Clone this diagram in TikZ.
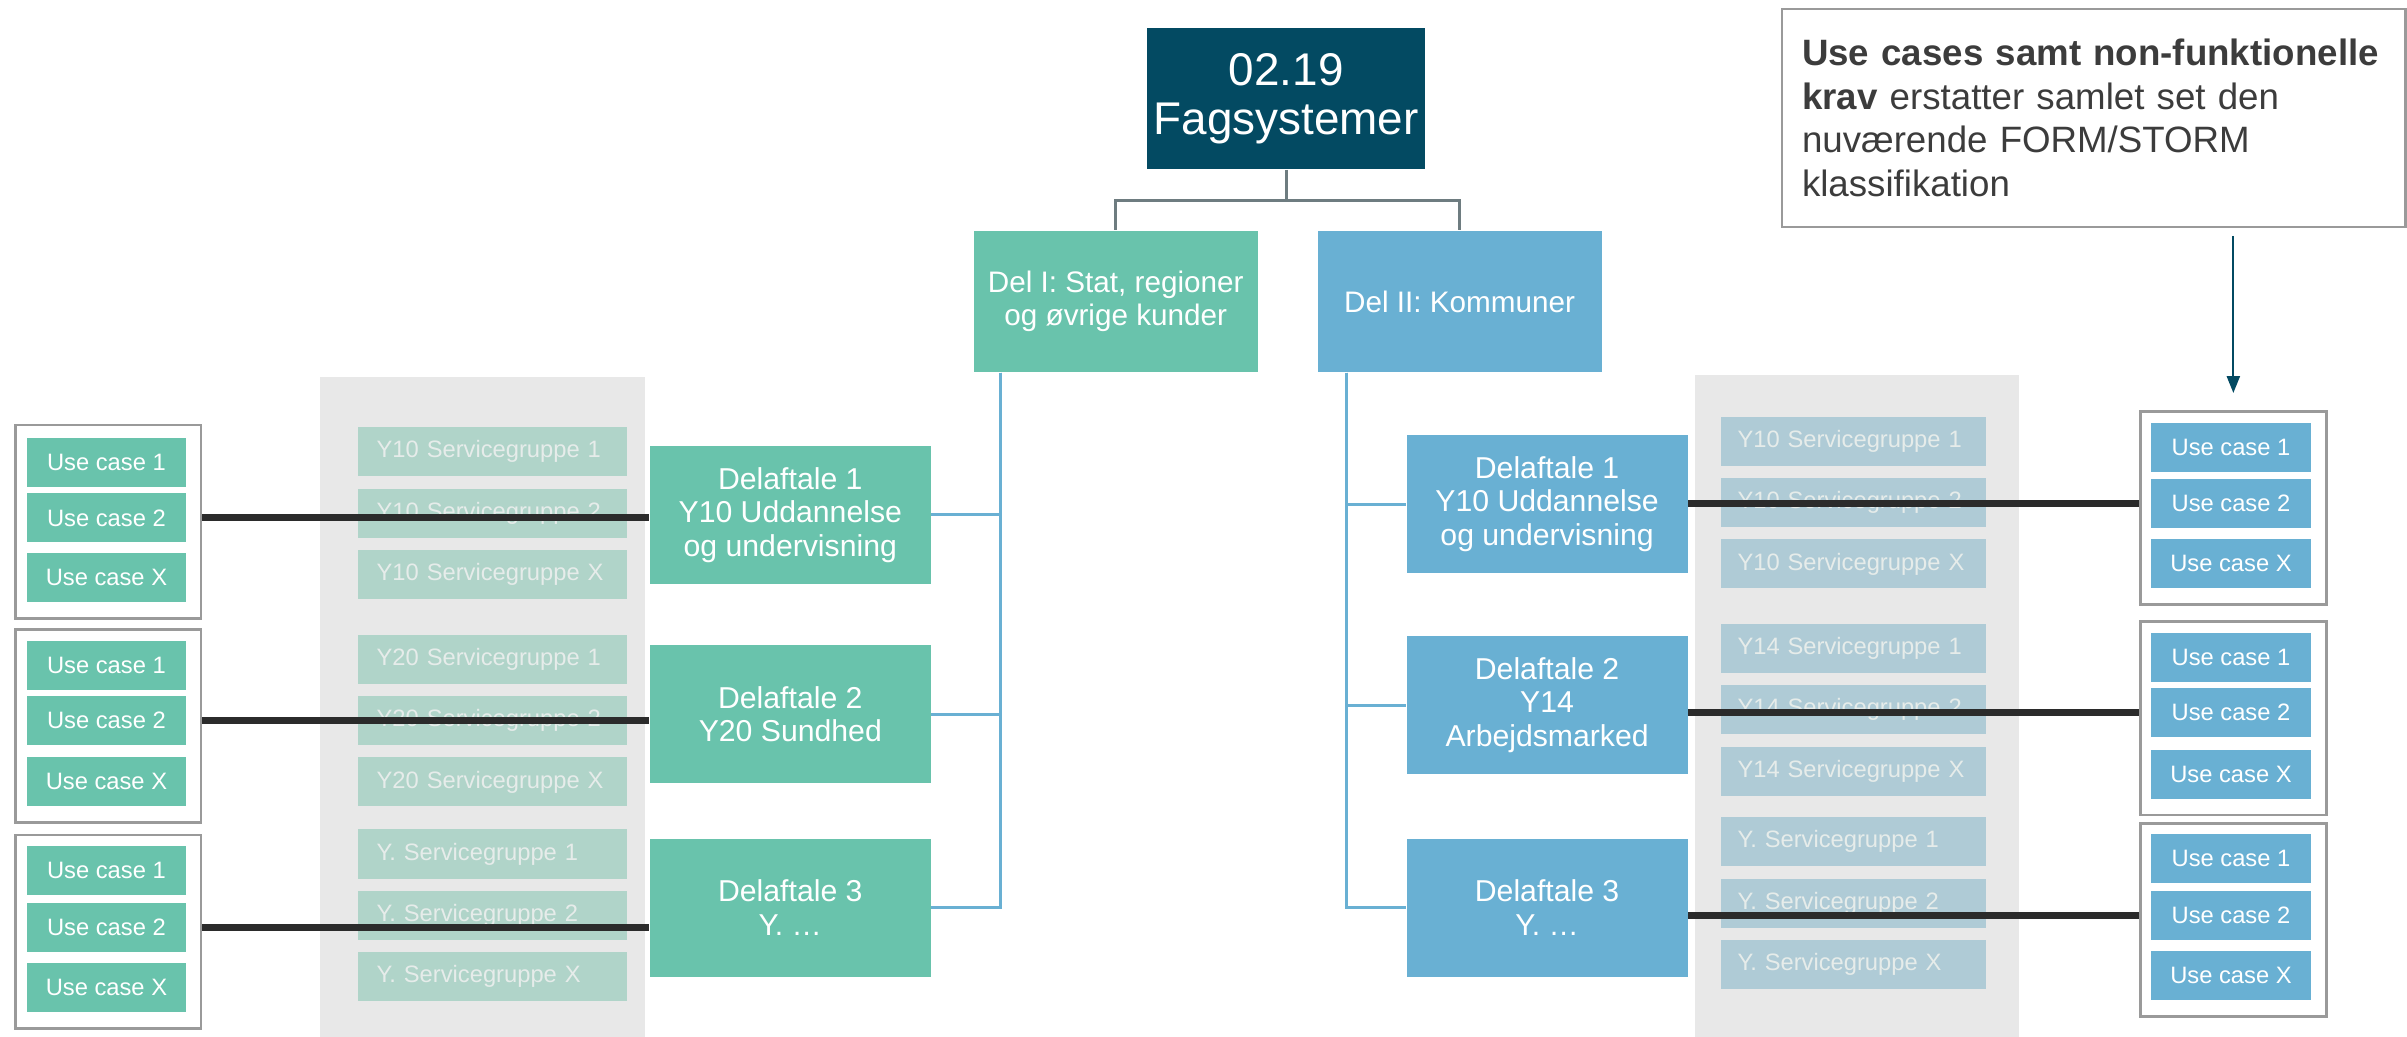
\documentclass[tikz,border=0pt]{standalone}
\usepackage{fontspec}
\setmainfont{Liberation Sans}
\usepackage{tikz}
\usetikzlibrary{arrows.meta}
\usetikzlibrary{calc}

\definecolor{topteal}{HTML}{034A62}
\definecolor{fgreen}{HTML}{69C3AC}
\definecolor{fblue}{HTML}{69B0D3}
\definecolor{sggreen}{HTML}{B0D4C9}
\definecolor{sgblue}{HTML}{AFCBD6}
\definecolor{panelgray}{HTML}{E8E8E8}
\definecolor{grpgray}{HTML}{9A9A9A}
\definecolor{linkdark}{HTML}{2B2B2B}
\definecolor{treegray}{HTML}{6E7C80}
\definecolor{sgtext}{HTML}{E6ECEA}
\definecolor{notetext}{HTML}{3C3C3C}

\begin{document}
\begin{tikzpicture}[x=0.02cm, y=-0.02cm,
    every node/.style={anchor=north west, inner sep=0pt},
    topbox/.style={fill=topteal, text=white, minimum width=3.62cm, minimum height=1.84cm, align=center, font=\fontsize{17}{18.5}\selectfont},
    partbox/.style={text=white, minimum width=3.7cm, minimum height=1.84cm, align=center, font=\fontsize{11}{12}\selectfont},
    dealbox/.style={text=white, minimum width=3.66cm, minimum height=1.8cm, align=center, font=\fontsize{11.2}{12.4}\selectfont},
    panel/.style={fill=panelgray, minimum width=4.24cm, minimum height=8.6cm},
    sgbox/.style={text=sgtext, minimum height=0.64cm, text width=3.02cm, align=left, font=\fontsize{8.8}{10}\selectfont},
    lsg/.style={sgbox, fill=sggreen, inner xsep=0.24cm},
    rsg/.style={sgbox, fill=sgblue, inner xsep=0.22cm},
    grpbox/.style={draw=grpgray, line width=1pt, fill=white, minimum width=2.42cm, minimum height=2.52cm},
    ucbox/.style={text=white, minimum width=2.08cm, minimum height=0.64cm, font=\fontsize{8.8}{10}\selectfont},
    tree/.style={draw=treegray, line width=1.1pt},
    btree/.style={draw=fblue, line width=1.1pt},
    link/.style={draw=linkdark, line width=2.5pt},
    pointer/.style={draw=topteal, line width=0.8pt, -{Triangle[length=2.2mm, width=1.7mm]}}]

    \useasboundingbox (0,0) rectangle (1568,675);

    % top of the tree
    \node[topbox] (top) at (747,18) {02.19\\Fagsystemer};
    \node[partbox, fill=fgreen] (delI) at (634,150) {Del I: Stat, regioner\\og øvrige kunder};
    \node[partbox, fill=fblue] (delII) at (858,150) {Del II: Kommuner};

    \coordinate (fork) at ($(top.south)+(0,20)$);
    \draw[tree] (top.south) -- (fork);
    \draw[tree] (fork) -| (delI.north);
    \draw[tree] (fork) -| (delII.north);

    % grey panels behind the servicegrupper
    \node[panel] (lpanel) at (208,245) {};
    \node[panel, minimum width=4.22cm, minimum height=8.62cm] (rpanel) at (1104,244) {};

    % Del I: delaftaler
    \node[dealbox, fill=fgreen] (gd1) at (423,290) {Delaftale 1\\Y10 Uddannelse\\og undervisning};
    \node[dealbox, fill=fgreen] (gd2) at (423,420) {Delaftale 2\\Y20 Sundhed};
    \node[dealbox, fill=fgreen] (gd3) at (423,546) {Delaftale 3\\Y. \dots};

    % Del II: delaftaler
    \node[dealbox, fill=fblue] (bd1) at (916,283) {Delaftale 1\\Y10 Uddannelse\\og undervisning};
    \node[dealbox, fill=fblue] (bd2) at (916,414) {Delaftale 2\\Y14\\Arbejdsmarked};
    \node[dealbox, fill=fblue] (bd3) at (916,546) {Delaftale 3\\Y. \dots};

    \coordinate (ltrunk) at ($(delI.south west)+(18,0)$);
    \draw[btree] (ltrunk) |- (gd1.east);
    \draw[btree] (ltrunk) |- (gd2.east);
    \draw[btree] (ltrunk) |- (gd3.east);

    \coordinate (rtrunk) at ($(delII.south west)+(19,0)$);
    \draw[btree] (rtrunk) |- (bd1.west);
    \draw[btree] (rtrunk) |- (bd2.west);
    \draw[btree] (rtrunk) |- (bd3.west);

    % servicegrupper, left
    \node[lsg] (lsg1a) at (233,278) {Y10 Servicegruppe 1};
    \node[lsg] (lsg1b) at (233,318) {Y10 Servicegruppe 2};
    \node[lsg] (lsg1x) at (233,358) {Y10 Servicegruppe X};
    \node[lsg] (lsg2a) at (233,413) {Y20 Servicegruppe 1};
    \node[lsg] (lsg2b) at (233,453) {Y20 Servicegruppe 2};
    \node[lsg] (lsg2x) at (233,493) {Y20 Servicegruppe X};
    \node[lsg] (lsg3a) at (233,540) {Y. Servicegruppe 1};
    \node[lsg] (lsg3b) at (233,580) {Y. Servicegruppe 2};
    \node[lsg] (lsg3x) at (233,620) {Y. Servicegruppe X};

    % servicegrupper, right
    \node[rsg] (rsg1a) at (1120.5,271) {Y10 Servicegruppe 1};
    \node[rsg] (rsg1b) at (1120.5,311) {Y10 Servicegruppe 2};
    \node[rsg] (rsg1x) at (1120.5,351) {Y10 Servicegruppe X};
    \node[rsg] (rsg2a) at (1120.5,406) {Y14 Servicegruppe 1};
    \node[rsg] (rsg2b) at (1120.5,446) {Y14 Servicegruppe 2};
    \node[rsg] (rsg2x) at (1120.5,486) {Y14 Servicegruppe X};
    \node[rsg] (rsg3a) at (1120.5,532) {Y. Servicegruppe 1};
    \node[rsg] (rsg3b) at (1120.5,572) {Y. Servicegruppe 2};
    \node[rsg] (rsg3x) at (1120.5,612) {Y. Servicegruppe X};

    % use cases, left
    \node[grpbox] (lgrp1) at (9,276) {};
    \node[grpbox] (lgrp2) at (9,409) {};
    \node[grpbox] (lgrp3) at (9,543) {};
    \node[ucbox, fill=fgreen] (luc1a) at (17,285) {Use case 1};
    \node[ucbox, fill=fgreen] (luc1b) at (17,321) {Use case 2};
    \node[ucbox, fill=fgreen] (luc1x) at (17,360) {Use case X};
    \node[ucbox, fill=fgreen] (luc2a) at (17,417) {Use case 1};
    \node[ucbox, fill=fgreen] (luc2b) at (17,453) {Use case 2};
    \node[ucbox, fill=fgreen] (luc2x) at (17,493) {Use case X};
    \node[ucbox, fill=fgreen] (luc3a) at (17,551) {Use case 1};
    \node[ucbox, fill=fgreen] (luc3b) at (17,588) {Use case 2};
    \node[ucbox, fill=fgreen] (luc3x) at (17,627) {Use case X};

    % use cases, right
    \node[grpbox] (rgrp1) at (1393.5,267) {};
    \node[grpbox] (rgrp2) at (1393.5,404) {};
    \node[grpbox] (rgrp3) at (1393.5,535.5) {};
    \node[ucbox, fill=fblue] (ruc1a) at (1401,275) {Use case 1};
    \node[ucbox, fill=fblue] (ruc1b) at (1401,311.5) {Use case 2};
    \node[ucbox, fill=fblue] (ruc1x) at (1401,351) {Use case X};
    \node[ucbox, fill=fblue] (ruc2a) at (1401,412) {Use case 1};
    \node[ucbox, fill=fblue] (ruc2b) at (1401,448) {Use case 2};
    \node[ucbox, fill=fblue] (ruc2x) at (1401,488) {Use case X};
    \node[ucbox, fill=fblue] (ruc3a) at (1401,543) {Use case 1};
    \node[ucbox, fill=fblue] (ruc3b) at (1401,580) {Use case 2};
    \node[ucbox, fill=fblue] (ruc3x) at (1401,619) {Use case X};

    % links use case -> delaftale
    \draw[link] (luc1b.east -| lgrp1.east) -- (luc1b.east -| gd1.west);
    \draw[link] (luc2b.east -| lgrp2.east) -- (luc2b.east -| gd2.west);
    \draw[link] (luc3b.east -| lgrp3.east) -- (luc3b.east -| gd3.west);
    \draw[link] (ruc1b.west -| bd1.east) -- (ruc1b.west -| rgrp1.west);
    \draw[link] (ruc2b.west -| bd2.east) -- (ruc2b.west -| rgrp2.west);
    \draw[link] (ruc3b.west -| bd3.east) -- (ruc3b.west -| rgrp3.west);

    % note
    \node[draw=grpgray, line width=1pt, text=notetext, minimum height=2.84cm, text width=7.6cm, inner xsep=0.26cm, align=left, font=\fontsize{13.6}{16.2}\selectfont] (note) at (1160,5)
        {\textbf{Use cases samt non-funktionelle}\\\textbf{krav} erstatter samlet set den\\nuværende FORM/STORM\\klassifikation};
    \draw[pointer] ($(note.south -| rgrp1.north)+(0,5)$) -- ($(rgrp1.north)+(0,-11)$);
\end{tikzpicture}
\end{document}
